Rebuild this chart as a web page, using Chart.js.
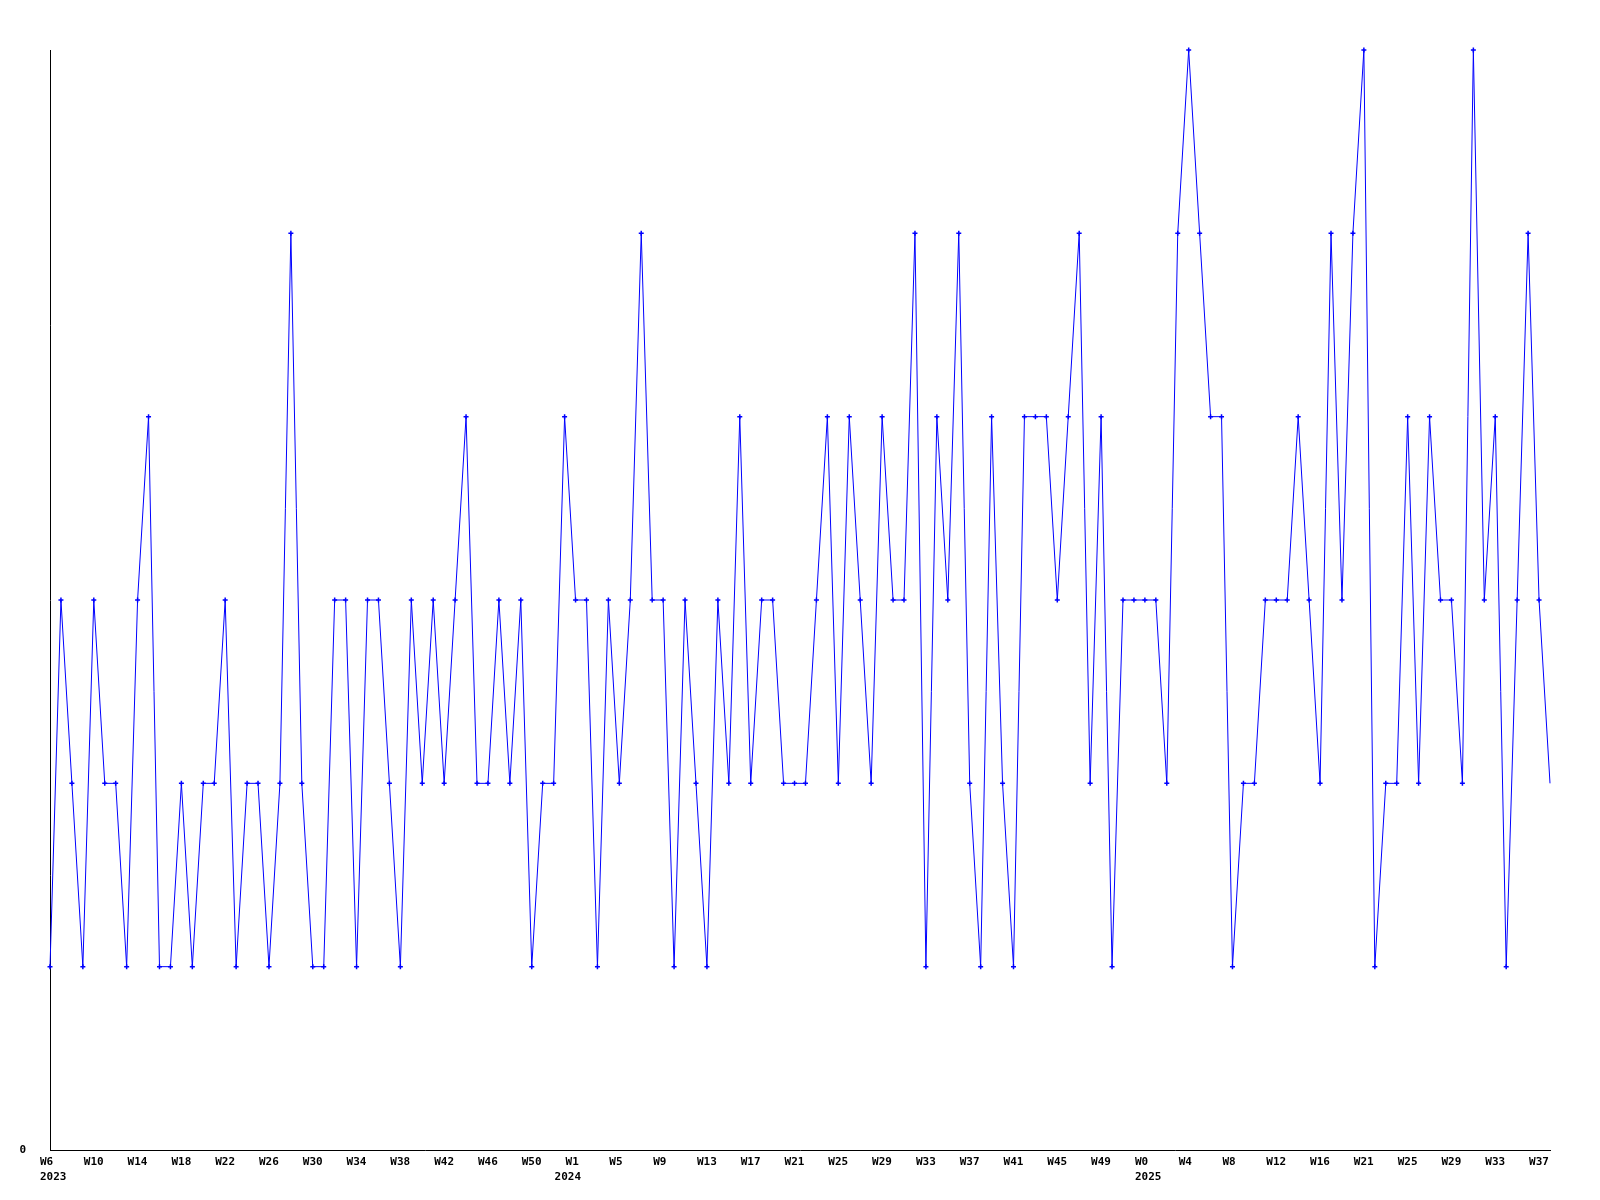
<!DOCTYPE html>
<html>
<head>
<meta charset="utf-8">
<script src="https://cdn.jsdelivr.net/npm/chart.js@4/dist/chart.umd.min.js"></script>
<style>
  body { margin: 0; background: #fff; }
  canvas { display: block; }
</style>
</head>
<body>
<canvas id="weeklyChart" width="1600" height="1200"></canvas>
<script>
// week numbers per year, as printed on the axis
const weeks2023 = [6,7,8,9,10,11,12,13,14,15,16,17,18,19,20,21,22,23,24,25,26,27,28,29,30,31,32,33,34,35,36,37,38,39,40,41,42,43,44,45,46,47,48,49,50,51,52];
const weeks2024 = [0,1,2,3,4,5,6,7,8,9,10,11,12,13,14,15,16,17,18,19,20,21,22,23,24,25,26,27,28,29,30,31,32,33,34,35,36,37,38,39,40,41,42,43,44,45,46,47,48,49,50,51,52];
const weeks2025 = [0,1,2,3,4,5,6,7,8,9,10,11,12,13,14,15,16,18,19,20,21,22,23,24,25,26,27,28,29,30,31,32,33,34,35,36,37,38];

// counts per week
const values2023 = [1,3,2,1,3,2,2,1,3,4, 1,1,2,1,2,2,3,1,2,2, 1,2,5,2,1,1,3,3,1,3, 3,2,1,3,2,3,2,3,4,2, 2,3,2,3,1,2,2];
const values2024 = [4,3,3,1,3,2,3,5,3,3, 1,3,2,1,3,2,4,2,3,3, 2,2,2,3,4,2,4,3,2,4, 3,3,5,1,4,3,5,2,1,4, 2,1,4,4,4,3,4,5,2,4, 1,3,3];
const values2025 = [3,3,2,5,6,5,4,4,1,2, 2,3,3,3,4,3,2,5,3,5, 6,1,2,2,4,2,4,3,3,2, 6,3,4,1,3,5,3,2];

const years = [2023, 2024, 2025];
const yMin = 0;
const yMax = 6;

const weekLists = [weeks2023, weeks2024, weeks2025];
const labels = [];
const yearOf = [];
const yearStart = [];
weekLists.forEach((weeks, k) => {
  weeks.forEach((w, j) => {
    labels.push('W' + w);
    yearOf.push(years[k]);
    yearStart.push(j === 0);
  });
});
const values = values2023.concat(values2024, values2025);
const lastIndex = values.length - 1;

const axisFont = { family: 'DejaVu Sans Mono', size: 11, weight: 'bold', lineHeight: 1.36 };

new Chart(document.getElementById('weeklyChart'), {
  type: 'line',
  data: {
    labels: labels,
    datasets: [{
      data: values,
      borderColor: '#0000ff',
      backgroundColor: '#0000ff',
      borderWidth: 1,
      tension: 0,
      fill: false,
      clip: false,
      pointStyle: 'cross',
      pointRadius: ctx => ctx.dataIndex === lastIndex ? 0 : 2.5,
      pointBorderWidth: 1.5,
      pointHoverRadius: 2.5
    }]
  },
  options: {
    responsive: false,
    animation: false,
    events: [],
    layout: { padding: { top: 50, right: 50, left: 0, bottom: 0 } },
    plugins: {
      legend: { display: false },
      tooltip: { enabled: false }
    },
    scales: {
      x: {
        type: 'category',
        offset: false,
        afterFit: s => { s.height = 50; },
        grid: { display: true, drawOnChartArea: false, drawTicks: false },
        border: { display: true, color: '#000', width: 1 },
        ticks: {
          autoSkip: false,
          maxRotation: 0,
          minRotation: 0,
          align: 'start',
          labelOffset: -10,
          padding: 5,
          color: '#000',
          font: axisFont,
          callback: function (value, index) {
            const week = index % 4 === 0 ? labels[index] : '';
            if (yearStart[index]) return [week, String(yearOf[index])];
            return week;
          }
        }
      },
      y: {
        min: yMin,
        max: yMax,
        afterFit: s => { s.width = 50; },
        afterBuildTicks: s => { s.ticks = [{ value: yMin }]; },
        grid: { display: true, drawOnChartArea: false, drawTicks: false },
        border: { display: true, color: '#000', width: 1 },
        ticks: {
          padding: 24,
          color: '#000',
          font: axisFont,
          callback: v => String(v)
        }
      }
    }
  }
});
</script>
</body>
</html>
